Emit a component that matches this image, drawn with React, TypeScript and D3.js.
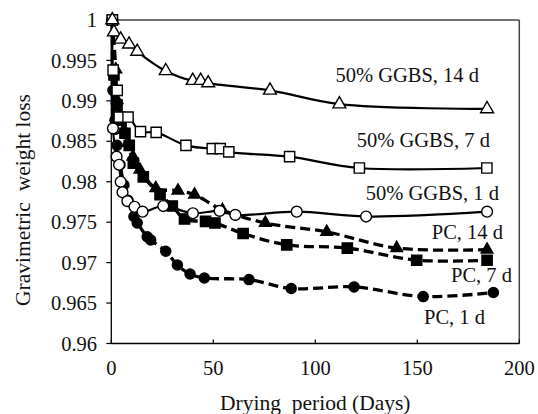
import React from "react";
import * as d3 from "d3";

const W = 538;
const H = 414;

const xTicks = [0, 50, 100, 150, 200];
const yTicks = [0.96, 0.965, 0.97, 0.975, 0.98, 0.985, 0.99, 0.995, 1];
const yTickLabels = ["0.96", "0.965", "0.97", "0.975", "0.98", "0.985", "0.99", "0.995", "1"];

// GGBS 14 d
const ggbs14Days = [0.5, 1.3, 4.6, 8.7, 12.7, 26.7, 39.9, 43.8, 47.5, 77.8, 111.8, 184.2];
const ggbs14Vals = [1.0, 0.9985, 0.9976, 0.997, 0.9961, 0.9937, 0.9925, 0.9925, 0.9922, 0.9913, 0.9896, 0.989];

// GGBS 7 d
const ggbs7Days = [0.5, 0.9, 2.9, 3.9, 8.2, 14.3, 22, 36.6, 49.5, 53.4, 57.6, 87.4, 121.6, 184.1];
const ggbs7Vals = [1.0, 0.9938, 0.9913, 0.988, 0.988, 0.9862, 0.9861, 0.9845, 0.9841, 0.9841, 0.9837, 0.9831, 0.9817, 0.9817];

// GGBS 1 d
const ggbs1Days = [0.5, 0.8, 2.6, 3.8, 4.6, 5.5, 7.9, 11.4, 15.3, 25.5, 40, 53.1, 60.8, 90.9, 124.9, 184.2];
const ggbs1Vals = [1.0, 0.9866, 0.9831, 0.9821, 0.98, 0.9787, 0.9776, 0.9769, 0.9763, 0.977, 0.9761, 0.9764, 0.9759, 0.9763, 0.9757, 0.9763];

// PC 14 d
const pc14Days = [0.5, 2.2, 2.8, 4.3, 6.2, 8.2, 10.6, 14, 21.8, 32.7, 40.8, 54.5, 75.5, 105.6, 139.9, 184.2];
const pc14Vals = [1.0, 0.9939, 0.9901, 0.9883, 0.9864, 0.9848, 0.9831, 0.9815, 0.9792, 0.9789, 0.9784, 0.9765, 0.9749, 0.9738, 0.9718, 0.9716];

// PC 7 d
const pc7Days = [0.5, 1.3, 2.8, 4.8, 6.7, 8.8, 10.8, 15.7, 23.9, 29.9, 35.9, 46.2, 50.8, 64.6, 86, 115.7, 149.7, 184.2];
const pc7Vals = [1.0, 0.9932, 0.9895, 0.9876, 0.986, 0.9845, 0.9823, 0.9806, 0.9784, 0.977, 0.9754, 0.9751, 0.9749, 0.9736, 0.9722, 0.9718, 0.9703, 0.9703];

// PC 1 d
const pc1Days = [0.5, 0.8, 1.8, 2.8, 4.3, 6.2, 8.2, 11.1, 12.7, 17.6, 19.3, 26.7, 32.4, 38.6, 45.6, 67.5, 88.2, 119, 152.9, 187.3];
const pc1Vals = [1.0, 0.9913, 0.9876, 0.9845, 0.9821, 0.9796, 0.9777, 0.9757, 0.9749, 0.9732, 0.9728, 0.9714, 0.9697, 0.9686, 0.9681, 0.9679, 0.9668, 0.967, 0.9658, 0.9663];

const seriesLabels = ["50% GGBS, 14 d", "50% GGBS, 7 d", "50% GGBS, 1 d", "PC, 14 d", "PC, 7 d", "PC, 1 d"];

type Series = {
  days: number[];
  vals: number[];
  symbol: d3.SymbolType;
  size: number;
  filled: boolean;
  dashed: boolean;
  label: string;
  lx: number;
  ly: number;
};

const series: Series[] = [
  { days: pc1Days, vals: pc1Vals, symbol: d3.symbolCircle, size: 80, filled: true, dashed: true, label: seriesLabels[5], lx: 485, ly: 324 },
  { days: pc7Days, vals: pc7Vals, symbol: d3.symbolSquare, size: 105, filled: true, dashed: true, label: seriesLabels[4], lx: 512, ly: 282 },
  { days: pc14Days, vals: pc14Vals, symbol: d3.symbolTriangle, size: 60, filled: true, dashed: true, label: seriesLabels[3], lx: 503, ly: 239 },
  { days: ggbs1Days, vals: ggbs1Vals, symbol: d3.symbolCircle, size: 92, filled: false, dashed: false, label: seriesLabels[2], lx: 499, ly: 200 },
  { days: ggbs7Days, vals: ggbs7Vals, symbol: d3.symbolSquare, size: 105, filled: false, dashed: false, label: seriesLabels[1], lx: 490, ly: 147 },
  { days: ggbs14Days, vals: ggbs14Vals, symbol: d3.symbolTriangle, size: 72, filled: false, dashed: false, label: seriesLabels[0], lx: 479, ly: 82 },
];

export default function App() {
  const x = d3.scaleLinear().domain([0, 200]).range([111.3, 519.3]);
  const y = d3.scaleLinear().domain([0.96, 1]).range([343.5, 20]);
  const font = "'Liberation Serif', 'Times New Roman', serif";

  const line = d3
    .line<[number, number]>()
    .x((d) => x(d[0]))
    .y((d) => y(d[1]))
    .curve(d3.curveCatmullRom.alpha(0.5));

  return (
    <svg width={W} height={H} style={{ position: "absolute", left: 0, top: 0, background: "#fff" }} fontFamily={font}>
      {/* frame */}
      <line x1={x(0)} x2={x(200)} y1={y(1)} y2={y(1)} stroke="#444" strokeWidth={1.5} />
      <line x1={x(200)} x2={x(200)} y1={y(1)} y2={y(0.96)} stroke="#444" strokeWidth={1.5} />
      {/* axes */}
      <line x1={x(0)} x2={x(0)} y1={y(1)} y2={y(0.96)} stroke="#000" strokeWidth={1.3} />
      <line x1={x(0)} x2={x(200)} y1={y(0.96)} y2={y(0.96)} stroke="#000" strokeWidth={1.3} />
      {yTicks.map((t, i) => (
        <g key={"yt" + i}>
          <line x1={x(0) - 5} x2={x(0)} y1={y(t)} y2={y(t)} stroke="#000" strokeWidth={1.2} />
          <text x={97} y={y(t)} dy="0.35em" textAnchor="end" fontSize={20.5} fill="#111">
            {yTickLabels[i]}
          </text>
        </g>
      ))}
      {xTicks.map((t, i) => (
        <g key={"xt" + i}>
          <line x1={x(t)} x2={x(t)} y1={y(0.96) - 4} y2={y(0.96)} stroke="#000" strokeWidth={1.2} />
          <text x={x(t)} y={375} textAnchor="middle" fontSize={20.5} fill="#111">
            {String(t)}
          </text>
        </g>
      ))}
      <text x={x(100)} y={410} textAnchor="middle" fontSize={21.5} fill="#111" style={{ whiteSpace: "pre" }}>
        {"Drying  period (Days)"}
      </text>
      <text
        transform={`translate(30, 200) rotate(-90)`}
        textAnchor="middle"
        fontSize={21.5}
        fill="#111"
        style={{ whiteSpace: "pre" }}
      >
        {"Gravimetric  weight loss"}
      </text>

      {series.map((s, si) => {
        const pts: [number, number][] = s.days.map((d, i) => [d, s.vals[i]]);
        const sym = d3.symbol().type(s.symbol).size(s.size)();
        return (
          <g key={"s" + si}>
            <path
              d={line(pts) || ""}
              fill="none"
              stroke="#000"
              strokeWidth={s.dashed ? 3.3 : 2.2}
              strokeDasharray={s.dashed ? "10,5" : undefined}
            />
            {pts.map((p, i) => (
              <path
                key={i}
                d={sym || ""}
                transform={`translate(${x(p[0])},${y(p[1])})`}
                fill={s.filled ? "#000" : "#fff"}
                stroke="#000"
                strokeWidth={1.4}
              />
            ))}
          </g>
        );
      })}
      {series.map((s, si) => (
        <text key={"l" + si} x={s.lx} y={s.ly} textAnchor="end" fontSize={20.5} fill="#111">
          {s.label}
        </text>
      ))}
    </svg>
  );
}
